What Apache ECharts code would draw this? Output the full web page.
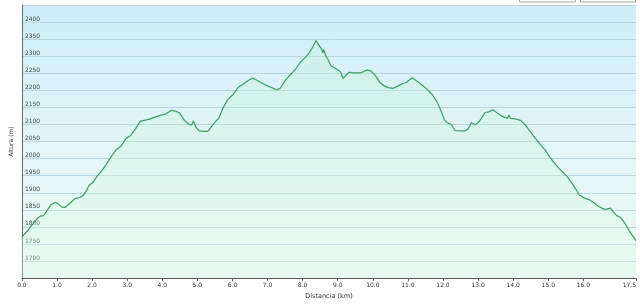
<!DOCTYPE html>
<html>
<head>
<meta charset="utf-8">
<script src="https://cdn.jsdelivr.net/npm/echarts@6/dist/echarts.min.js"></script>
<style>
html,body{margin:0;padding:0;background:#fff;}
#c{width:640px;height:305px;}
</style>
</head>
<body>
<div id="c"></div>
<script>
const distKm = [0.00,0.17,0.31,0.45,0.54,0.61,0.73,0.82,0.96,1.05,1.14,1.22,1.38,1.51,1.65,1.75,1.84,1.91,2.03,2.12,2.24,2.38,2.52,2.68,2.82,2.96,3.10,3.24,3.38,3.61,3.75,3.93,4.12,4.26,4.40,4.49,4.63,4.74,4.83,4.89,4.96,5.05,5.19,5.30,5.39,5.51,5.61,5.73,5.86,6.01,6.16,6.30,6.44,6.58,6.72,6.86,7.00,7.14,7.18,7.26,7.37,7.51,7.65,7.79,7.93,8.07,8.19,8.30,8.38,8.44,8.54,8.58,8.60,8.66,8.72,8.81,8.95,9.07,9.16,9.23,9.33,9.46,9.65,9.84,9.93,10.07,10.21,10.33,10.44,10.58,10.72,10.86,10.95,11.12,11.28,11.42,11.56,11.70,11.84,11.96,12.05,12.14,12.24,12.33,12.44,12.63,12.72,12.81,12.92,13.02,13.11,13.20,13.30,13.42,13.54,13.65,13.84,13.88,13.92,14.02,14.21,14.35,14.49,14.63,14.76,14.90,15.04,15.18,15.32,15.46,15.60,15.74,15.88,16.02,16.16,16.30,16.44,16.58,16.67,16.77,16.86,16.95,17.05,17.19,17.32,17.50];
const altitudeM = [1770,1790,1808,1826,1832,1832,1850,1864,1872,1866,1858,1857,1870,1883,1886,1893,1906,1921,1931,1945,1960,1979,2002,2025,2036,2058,2068,2088,2110,2115,2120,2126,2132,2142,2138,2134,2112,2102,2098,2110,2092,2081,2080,2080,2092,2108,2118,2148,2172,2187,2208,2218,2228,2236,2228,2220,2213,2207,2210,2201,2207,2230,2246,2261,2282,2296,2310,2329,2346,2336,2321,2310,2320,2301,2291,2272,2263,2255,2235,2244,2253,2251,2251,2260,2258,2244,2222,2213,2208,2206,2213,2220,2223,2237,2225,2214,2202,2187,2164,2135,2112,2104,2100,2083,2081,2081,2088,2105,2099,2107,2121,2135,2137,2143,2134,2126,2118,2128,2118,2117,2112,2098,2079,2060,2043,2027,2005,1986,1970,1956,1939,1918,1894,1885,1880,1871,1860,1852,1852,1855,1843,1833,1828,1810,1786,1760];
const xTickValues = [0,1,2,3,4,5,6,7,8,9,10,11,12,13,14,15,16,17.5];
const xTitle = 'Distancia (km)';
const yTitle = 'Altura (m)';

const chart = echarts.init(document.getElementById('c'), null, {renderer:'canvas'});
const seriesData = distKm.map((d,i)=>[d, altitudeM[i]]);
const font = 'DejaVu Sans';
chart.setOption({
  animation:false,
  backgroundColor:'#ffffff',
  grid:{left:8, right:4, top:5, bottom:17, show:true, borderWidth:0,
    backgroundColor:{type:'linear',x:0,y:0,x2:0,y2:1,colorStops:[
      {offset:0,color:'#cfeef9'},{offset:0.5,color:'#e2f5f8'},{offset:1,color:'#ecfbf3'}]}},
  xAxis:{type:'value', min:0, max:17.5, interval:1,
    name:xTitle, nameLocation:'middle', nameGap:12,
    nameTextStyle:{fontFamily:font,fontSize:6.5,color:'#333'},
    axisLine:{show:true,lineStyle:{color:'#555',width:1}},
    axisTick:{show:true,length:3,lineStyle:{color:'#666'},customValues:xTickValues},
    axisLabel:{fontFamily:font,fontSize:6,color:'#333',margin:4,customValues:xTickValues,
      formatter:v=>Number(v).toFixed(1), alignMaxLabel:'right'},
    splitLine:{show:false}},
  yAxis:{type:'value', min:1650, max:2450, interval:50,
    name:yTitle, nameLocation:'middle', nameGap:3, nameRotate:90,
    nameTextStyle:{fontFamily:font,fontSize:6,color:'#333'},
    axisLine:{show:true,lineStyle:{color:'#666',width:1}},
    axisTick:{show:false},
    axisLabel:{inside:true, fontFamily:font,fontSize:6,color:'#444',margin:3,
      verticalAlign:'bottom', showMinLabel:false, showMaxLabel:false,
      formatter:v=>String(v)},
    splitLine:{show:true,lineStyle:{color:'#b7d5de',width:1}}},
  graphic:[
    {type:'rect', shape:{x:519.5,y:-10,width:56,height:12}, style:{fill:'#fff',stroke:'#aaa',lineWidth:1}},
    {type:'rect', shape:{x:580.5,y:-10,width:55,height:12}, style:{fill:'#fff',stroke:'#aaa',lineWidth:1}}
  ],
  series:[{type:'line', data:seriesData, showSymbol:false, smooth:false,
    lineStyle:{color:'#3a9f60',width:1.2},
    areaStyle:{color:{type:'linear',x:0,y:0,x2:0,y2:1,colorStops:[
      {offset:0,color:'rgba(190,240,210,0.55)'},{offset:1,color:'rgba(225,250,235,0.5)'}]}}
  }]
});
</script>
</body>
</html>
